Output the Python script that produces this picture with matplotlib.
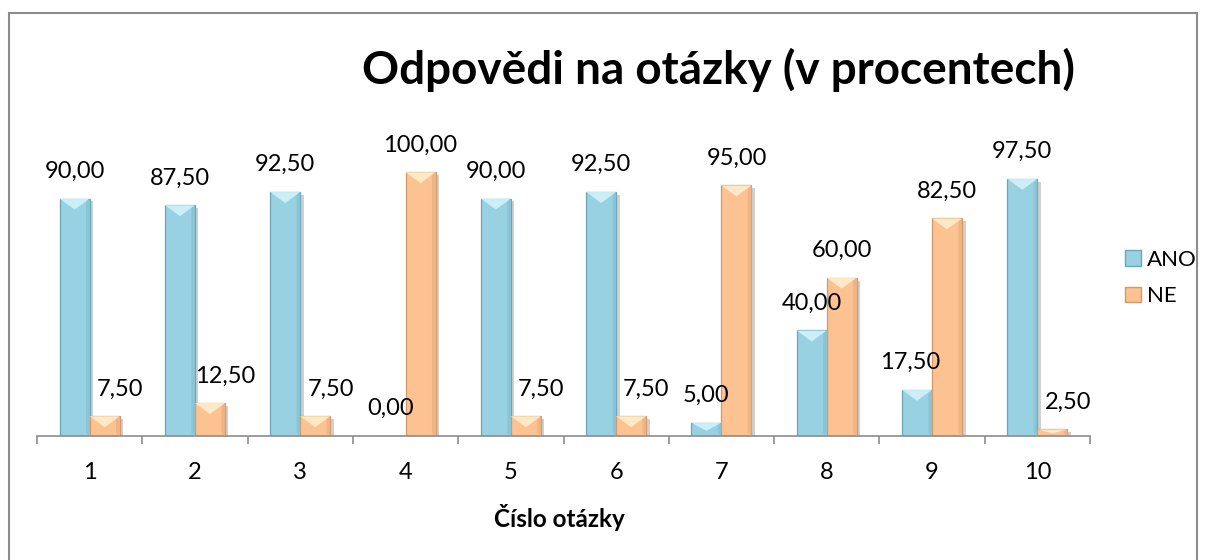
import numpy as np
import matplotlib
matplotlib.use("Agg")
import matplotlib.pyplot as plt
import matplotlib.patheffects as pe
from matplotlib.patches import Polygon, Rectangle, Patch

plt.rcParams['font.family'] = ['Lato', 'DejaVu Sans']

# data
questions = ['1', '2', '3', '4', '5', '6', '7', '8', '9', '10']
ano = [90.00, 87.50, 92.50, 0.00, 90.00, 92.50, 5.00, 40.00, 17.50, 97.50]
ne = [7.50, 12.50, 7.50, 100.00, 7.50, 7.50, 95.00, 60.00, 82.50, 2.50]
series_names = ['ANO', 'NE']

W, H = 1206, 560
fig = plt.figure(figsize=(W / 100, H / 100), dpi=100)

# outer chart frame
fig.patches.append(Rectangle((9 / W, -0.1), (1197 - 9) / W, 1.1 - 13 / H,
                             transform=fig.transFigure, fill=False,
                             edgecolor='#8c8c8c', linewidth=1.5))

ax_l, ax_r, ax_b, ax_t = 37, 1090, 436, 130
ax = fig.add_axes([ax_l / W, 1 - ax_b / H, (ax_r - ax_l) / W, (ax_b - ax_t) / H])
ymax = 116
ax.set_xlim(-0.5, len(questions) - 0.5)
ax.set_ylim(0, ymax)

px_y = (ax_b - ax_t) / ymax             # pixels per unit

x = np.arange(len(questions))
bw = 0.285

styles = {
    'ANO': dict(face='#98d2e2', edge='#6aa6b8', top='#cdf1fa', side='#86c2d3'),
    'NE': dict(face='#fcc291', edge='#d39a68', top='#ffeccb', side='#eeb17f'),
}

shadow = [pe.SimplePatchShadow(offset=(2.5, -2), alpha=0.3, shadow_rgbFace='#666666'), pe.Normal()]


def bevel_bars(xs, vals, st):
    bars = ax.bar(xs, vals, bw, color=st['face'], edgecolor=st['edge'],
                  linewidth=0.9, zorder=2)
    for b in bars:
        b.set_path_effects(shadow)
        x0, w, h = b.get_x(), b.get_width(), b.get_height()
        if h <= 0:
            continue
        xc = x0 + w / 2
        d = min(11 / px_y, h * 0.6)
        ax.add_patch(Polygon([(x0, h), (x0 + w, h), (xc, h - d)], closed=True,
                             facecolor=st['top'], edgecolor='none', zorder=3, alpha=0.95))
        # darker right strip for the bevelled look
        inset = w * 0.12
        ax.add_patch(Polygon([(x0 + w, h), (x0 + w - inset, h - min(3 / px_y, h / 2)),
                              (x0 + w - inset, min(3 / px_y, h / 2)), (x0 + w, 0)], closed=True,
                             facecolor=st['side'], edgecolor='none', zorder=3, alpha=0.8))
    return bars


bevel_bars(x - bw / 2, ano, styles['ANO'])
bevel_bars(x + bw / 2, ne, styles['NE'])


def fmt(v):
    return f'{v:.2f}'.replace('.', ',')


lab_fs = 17
# value labels (small ones pushed aside like in the original)
for i, v in enumerate(ano):
    dx = -5 if 10 < v < 20 else 0
    ax.annotate(fmt(v), (x[i] - bw / 2, v), xytext=(dx, 12), textcoords='offset points',
                ha='center', va='bottom', fontsize=lab_fs, color='black')
for i, v in enumerate(ne):
    dx = 11 if v < 15 else 0
    ax.annotate(fmt(v), (x[i] + bw / 2, v), xytext=(dx, 12), textcoords='offset points',
                ha='center', va='bottom', fontsize=lab_fs, color='black')

# axes styling
for s in ['left', 'right', 'top']:
    ax.spines[s].set_visible(False)
ax.spines['bottom'].set_color('#8c8c8c')
ax.spines['bottom'].set_linewidth(1.2)
ax.set_yticks([])
ax.set_xticks(x)
ax.set_xticklabels(questions, fontsize=lab_fs)
ax.set_xticks(np.arange(-0.5, len(questions)), minor=True)
ax.tick_params(axis='x', which='major', length=0, pad=19)
ax.tick_params(axis='x', which='minor', length=6, color='#8c8c8c', width=1.2)

fig.text(718 / W, 1 - 84 / H, 'Odpovědi na otázky (v procentech)', ha='center', va='baseline',
         fontsize=33, fontweight='bold')
fig.text(559 / W, 1 - 527 / H, 'Číslo otázky', ha='center', va='baseline',
         fontsize=17.5, fontweight='bold')

handles = [Patch(facecolor=styles[n]['face'], edgecolor=styles[n]['edge']) for n in series_names]
fig.legend(handles, series_names, loc='center left', bbox_to_anchor=(1125 / W, 1 - 278 / H),
           frameon=False, fontsize=16, handlelength=0.7, handleheight=0.7,
           handletextpad=0.3, labelspacing=0.75, borderpad=0, borderaxespad=0)

fig.savefig('out.png', dpi=100)
